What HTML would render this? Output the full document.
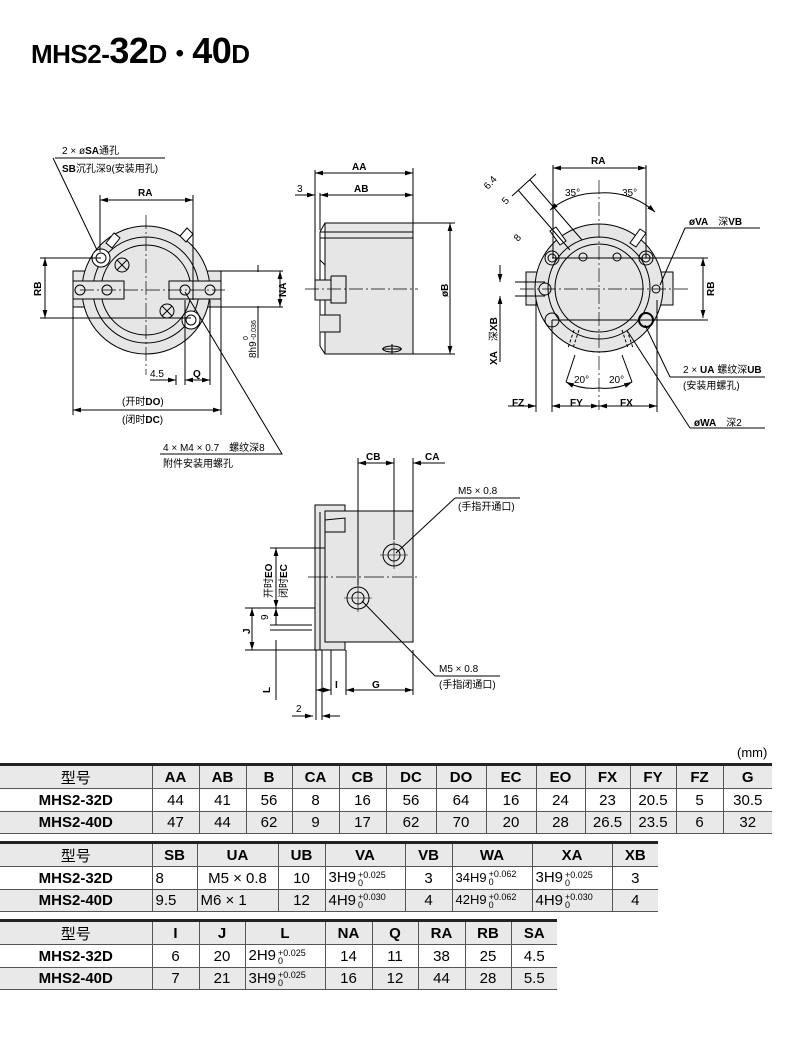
<!DOCTYPE html>
<html><head><meta charset="utf-8">
<style>
body{margin:0;width:790px;height:1038px;background:#fff;position:relative;overflow:hidden;font-family:"Liberation Sans","Noto Sans CJK SC",sans-serif;}
svg{position:absolute;left:0;top:0}
svg text{font-family:"Liberation Sans","Noto Sans CJK SC",sans-serif;font-size:10px;fill:#000}
.b{font-weight:bold}
table{position:absolute;left:0;border-collapse:collapse;table-layout:fixed;font-size:15px;border-top:3px solid #222;border-bottom:1px solid #666}
td{border-left:1px solid #555;border-bottom:1px solid #555;text-align:center;padding:0;white-space:nowrap;overflow:hidden}
td:first-child{border-left:none;font-weight:bold}
tr.h td{background:#e9e9e9;font-weight:bold;height:22px}
tr.h td:first-child{font-weight:normal}
tr.r1 td{background:#fff;height:22px}
tr.r2 td{background:#e9e9e9;height:21px}
.t{display:inline-block;vertical-align:middle;font-size:9px;line-height:8px;text-align:left;margin-left:2px}
.l{text-align:left;padding-left:3px}
</style></head><body>
<div style="position:absolute;left:31px;top:30px;font-weight:bold;font-size:26px;letter-spacing:-0.5px">MHS2-<span style="font-size:36px">32</span>D・<span style="font-size:36px">40</span>D</div>

<svg width="790" height="760" viewBox="0 0 790 760">
<defs><marker id="a" viewBox="0 0 10 6" refX="10" refY="3" markerWidth="8" markerHeight="5" orient="auto-start-reverse"><path d="M0,0L10,3L0,6z" fill="#000"/></marker></defs>
<g stroke="#000" stroke-width="1" fill="none">
<rect x="73" y="271" width="148" height="36" fill="#e6e6e6"/>
<circle cx="146" cy="290" r="64" fill="#e6e6e6"/>
<circle cx="146" cy="290" r="53"/>
<circle cx="146" cy="290" r="45" fill="#e6e6e6"/>
<rect x="73" y="281" width="51" height="18" fill="#e6e6e6"/>
<rect x="169" y="281" width="52" height="18" fill="#e6e6e6"/>
<circle cx="80" cy="290" r="5"/><circle cx="107" cy="290" r="5"/>
<circle cx="185" cy="290" r="5"/><circle cx="210" cy="290" r="5"/>
<circle cx="122" cy="265" r="7"/><path d="M117,260l10,10M127,260l-10,10"/>
<circle cx="167" cy="311" r="7"/><path d="M162,306l10,10M172,306l-10,10"/>
<circle cx="101" cy="258" r="9" fill="#fff"/><circle cx="101" cy="258" r="5"/>
<circle cx="191" cy="320" r="9" fill="#fff"/><circle cx="191" cy="320" r="5"/>
<path d="M106,243l8,-10l6,5l-8,10z" fill="#fff"/><path d="M180,236l7,-8l6,6l-7,8z" fill="#fff"/>
<path d="M146,215V375M80,290H225" stroke-dasharray="14 3 2 3" stroke-width="0.7"/>
<path d="M100,195V252M193,195V300"/><path d="M100,200H193" marker-start="url(#a)" marker-end="url(#a)"/>
<path d="M40,258H101M40,318H191"/><path d="M45,258V318" marker-start="url(#a)" marker-end="url(#a)"/>
<path d="M221,271H283M221,307H283"/><path d="M258,265V272M258,306V358"/><path d="M280,271V307" marker-start="url(#a)" marker-end="url(#a)"/>
<path d="M176,375V385M185,300V385M210,300V385"/>
<path d="M150,380H176" marker-end="url(#a)"/><path d="M185,380H210" marker-start="url(#a)" marker-end="url(#a)"/>
<path d="M73,307V415M221,307V415"/><path d="M73,410H221" marker-start="url(#a)" marker-end="url(#a)"/>
<path d="M55,158H165M53,158L97,250"/>
<path d="M160,454H282L185,292"/>
<rect x="325" y="223" width="88" height="131" fill="#e6e6e6"/>
<path d="M320,232L325,223M320,232V346L325,354M320,238H413M320,232H413M320,260L325,265" />
<rect x="315" y="280" width="16" height="20" fill="#e6e6e6"/><path d="M331,276V303H346V276H331" fill="#e6e6e6"/>
<path d="M320,315H340V332H320" fill="#e6e6e6"/>
<ellipse cx="392" cy="349" rx="9" ry="3"/><path d="M392,344V354M382,349H402"/>
<path d="M305,289H418" stroke-dasharray="14 3 2 3" stroke-width="0.7"/>
<path d="M315,170V280M320,193V230M413,168V223"/>
<path d="M315,173H413" marker-start="url(#a)" marker-end="url(#a)"/>
<path d="M320,195H413" marker-start="url(#a)" marker-end="url(#a)"/>
<path d="M295,195H315" marker-end="url(#a)"/>
<path d="M413,223H455M413,354H455"/><path d="M450,223V354" marker-start="url(#a)" marker-end="url(#a)"/>
<rect x="526" y="272" width="147" height="33" fill="#e6e6e6"/>
<circle cx="599" cy="288" r="64" fill="#e6e6e6"/>
<circle cx="599" cy="288" r="51"/>
<circle cx="599" cy="288" r="44" fill="#e6e6e6"/>
<circle cx="552" cy="258" r="7"/><circle cx="552" cy="258" r="4"/>
<circle cx="646" cy="258" r="7"/><circle cx="646" cy="258" r="4"/>
<circle cx="552" cy="320" r="7"/><circle cx="646" cy="320" r="7" stroke-width="2"/>
<circle cx="545" cy="289" r="6"/><circle cx="656" cy="289" r="4"/>
<circle cx="583" cy="257" r="4"/><circle cx="617" cy="257" r="4"/>
<path d="M560,245l-10,-14l6,-4l10,14z" fill="#fff"/><path d="M630,243l10,-14l6,4l-10,14z" fill="#fff"/>
<path d="M574,330l-6,18M579,330l-6,18M622,330l6,18M627,330l6,18" stroke-dasharray="3 2"/>
<path d="M599,180V410M520,289H690" stroke-dasharray="14 3 2 3" stroke-width="0.7"/>
<path d="M553,165V258M646,165V258"/><path d="M553,168H646" marker-start="url(#a)" marker-end="url(#a)"/>
<path d="M550,210A75,75 0 0 1 599,193" marker-start="url(#a)"/><path d="M599,193A75,75 0 0 1 655,212" marker-end="url(#a)"/>
<path d="M552,258H708M552,320H708"/><path d="M703,258V318" marker-start="url(#a)" marker-end="url(#a)"/>
<path d="M515,282H545M515,296H545"/><path d="M500,265V282" marker-end="url(#a)"/><path d="M500,296V362" marker-start="url(#a)"/>
<path d="M536,300V412M552,320V412M657,300V412"/>
<path d="M508,406H536" marker-end="url(#a)"/><path d="M552,406H599" marker-start="url(#a)" marker-end="url(#a)"/><path d="M599,406H657" marker-start="url(#a)" marker-end="url(#a)"/>
<path d="M566,382A60,60 0 0 0 599,388" marker-start="url(#a)"/><path d="M599,388A60,60 0 0 0 632,382" marker-end="url(#a)"/>
<path d="M566,382L575,355M632,382L622,355"/>
<path d="M518,190L570,250M530,180L582,240M512,196l24,-22" />
<path d="M685,228H760M685,228L660,285"/>
<path d="M670,377H765M670,377L645,325"/>
<path d="M690,428H765M690,428L628,332"/>
<path d="M315,505H345V511H325V642H345V650H315Z" fill="#e6e6e6"/>
<rect x="325" y="511" width="88" height="131" fill="#e6e6e6"/>
<path d="M315,505V650M320,512V650M325,520L345,518V532H325"/>
<circle cx="394" cy="555" r="11"/><circle cx="394" cy="555" r="6"/><path d="M380,555H408M394,541V569" stroke-width="0.6"/>
<circle cx="358" cy="598" r="11"/><circle cx="358" cy="598" r="6"/><path d="M344,598H372M358,584V612" stroke-width="0.6"/>
<path d="M308,577H420" stroke-dasharray="20 3 2 3" stroke-width="0.7"/>
<path d="M358,458V585M394,458V540M413,458V511"/>
<path d="M358,463H394" marker-start="url(#a)" marker-end="url(#a)"/><path d="M445,463H413" marker-end="url(#a)"/>
<path d="M270,548H325M245,608H315M245,650H315"/>
<path d="M276,548V608" marker-start="url(#a)" marker-end="url(#a)"/>
<path d="M252,608V650" marker-start="url(#a)" marker-end="url(#a)"/>
<path d="M276,608V625M276,640V700" marker-start="url(#a)"/><path d="M270,625H312M270,630H312"/>
<path d="M316,650V720M322,650V720M331,650V695M346,650V695M413,650V695"/>
<path d="M316,690H331" marker-start="url(#a)" marker-end="url(#a)"/><path d="M346,690H413" marker-start="url(#a)" marker-end="url(#a)"/>
<path d="M292,716H313" marker-end="url(#a)"/><path d="M340,716H322" marker-end="url(#a)"/>
<path d="M455,498H520M455,498L396,553"/>
<path d="M435,676H500M435,676L362,601"/>
</g>
<g>
<text x="62" y="154">2 × ø<tspan class="b">SA</tspan>通孔</text>
<text x="62" y="172"><tspan class="b">SB</tspan>沉孔深9(安装用孔)</text>
<text x="138" y="196" class="b">RA</text>
<text transform="translate(41,296) rotate(-90)" class="b">RB</text>
<text transform="translate(286,297) rotate(-90)" class="b">NA</text>
<text transform="translate(256,358) rotate(-90)">8h9</text>
<text transform="translate(248,340) rotate(-90)" style="font-size:7px">0</text>
<text transform="translate(256,340) rotate(-90)" style="font-size:7px">-0.036</text>
<text x="150" y="377">4.5</text><text x="193" y="377" class="b">Q</text>
<text x="122" y="405">(开时<tspan class="b">DO</tspan>)</text>
<text x="122" y="423">(闭时<tspan class="b">DC</tspan>)</text>
<text x="163" y="451">4 × M4 × 0.7　螺纹深8</text>
<text x="163" y="467">附件安装用螺孔</text>
<text x="352" y="170" class="b">AA</text><text x="354" y="192" class="b">AB</text><text x="297" y="192">3</text>
<text transform="translate(448,297) rotate(-90)" class="b">øB</text>
<text x="591" y="164" class="b">RA</text>
<text x="565" y="196">35°</text><text x="622" y="196">35°</text>
<text transform="translate(488,190) rotate(-48)">6.4</text>
<text transform="translate(506,205) rotate(-48)">5</text>
<text transform="translate(518,242) rotate(-48)">8</text>
<text x="689" y="225"><tspan class="b">øVA</tspan>　深<tspan class="b">VB</tspan></text>
<text transform="translate(714,296) rotate(-90)" class="b">RB</text>
<text transform="translate(497,365) rotate(-90)"><tspan class="b">XA</tspan>　深<tspan class="b">XB</tspan></text>
<text x="574" y="383">20°</text><text x="609" y="383">20°</text>
<text x="683" y="373">2 × <tspan class="b">UA</tspan> 螺纹深<tspan class="b">UB</tspan></text>
<text x="683" y="389">(安装用螺孔)</text>
<text x="512" y="406" class="b">FZ</text><text x="570" y="406" class="b">FY</text><text x="620" y="406" class="b">FX</text>
<text x="694" y="426"><tspan class="b">øWA</tspan>　深2</text>
<text x="366" y="460" class="b">CB</text><text x="425" y="460" class="b">CA</text>
<text x="458" y="494">M5 × 0.8</text><text x="458" y="510">(手指开通口)</text>
<text x="439" y="672">M5 × 0.8</text><text x="439" y="688">(手指闭通口)</text>
<text transform="translate(272,598) rotate(-90)">开时<tspan class="b">EO</tspan></text>
<text transform="translate(287,598) rotate(-90)">闭时<tspan class="b">EC</tspan></text>
<text transform="translate(268,620) rotate(-90)">9</text>
<text transform="translate(250,634) rotate(-90)" class="b">J</text>
<text transform="translate(270,693) rotate(-90)" class="b">L</text>
<text x="335" y="688" class="b">I</text><text x="372" y="688" class="b">G</text>
<text x="296" y="712">2</text>
<text x="737" y="757" style="font-size:13px">(mm)</text>
</g>
</svg>

<table style="top:763px;width:772px">
<colgroup><col style="width:152px"><col style="width:47px"><col style="width:47px"><col style="width:46px"><col style="width:47px"><col style="width:47px"><col style="width:50px"><col style="width:50px"><col style="width:50px"><col style="width:49px"><col style="width:45px"><col style="width:46px"><col style="width:47px"><col style="width:49px"></colgroup>
<tr class="h"><td>型号</td><td>AA</td><td>AB</td><td>B</td><td>CA</td><td>CB</td><td>DC</td><td>DO</td><td>EC</td><td>EO</td><td>FX</td><td>FY</td><td>FZ</td><td>G</td></tr>
<tr class="r1"><td>MHS2-32D</td><td>44</td><td>41</td><td>56</td><td>8</td><td>16</td><td>56</td><td>64</td><td>16</td><td>24</td><td>23</td><td>20.5</td><td>5</td><td>30.5</td></tr>
<tr class="r2"><td>MHS2-40D</td><td>47</td><td>44</td><td>62</td><td>9</td><td>17</td><td>62</td><td>70</td><td>20</td><td>28</td><td>26.5</td><td>23.5</td><td>6</td><td>32</td></tr>
</table>

<table style="top:841px;width:658px">
<colgroup><col style="width:152px"><col style="width:45px"><col style="width:81px"><col style="width:47px"><col style="width:80px"><col style="width:47px"><col style="width:80px"><col style="width:80px"><col style="width:46px"></colgroup>
<tr class="h"><td>型号</td><td>SB</td><td>UA</td><td>UB</td><td>VA</td><td>VB</td><td>WA</td><td>XA</td><td>XB</td></tr>
<tr class="r1"><td>MHS2-32D</td><td class="l">8</td><td>M5 × 0.8</td><td>10</td><td class="l">3H9<span class="t">+0.025<br>0</span></td><td>3</td><td class="l" style="font-size:13px">34H9<span class="t">+0.062<br>0</span></td><td class="l">3H9<span class="t">+0.025<br>0</span></td><td>3</td></tr>
<tr class="r2"><td>MHS2-40D</td><td class="l">9.5</td><td class="l">M6 × 1</td><td>12</td><td class="l">4H9<span class="t">+0.030<br>0</span></td><td>4</td><td class="l" style="font-size:13px">42H9<span class="t">+0.062<br>0</span></td><td class="l">4H9<span class="t">+0.030<br>0</span></td><td>4</td></tr>
</table>

<table style="top:919px;width:557px">
<colgroup><col style="width:152px"><col style="width:47px"><col style="width:46px"><col style="width:80px"><col style="width:47px"><col style="width:46px"><col style="width:47px"><col style="width:46px"><col style="width:46px"></colgroup>
<tr class="h"><td>型号</td><td>I</td><td>J</td><td>L</td><td>NA</td><td>Q</td><td>RA</td><td>RB</td><td>SA</td></tr>
<tr class="r1"><td>MHS2-32D</td><td>6</td><td>20</td><td class="l">2H9<span class="t">+0.025<br>0</span></td><td>14</td><td>11</td><td>38</td><td>25</td><td>4.5</td></tr>
<tr class="r2"><td>MHS2-40D</td><td>7</td><td>21</td><td class="l">3H9<span class="t">+0.025<br>0</span></td><td>16</td><td>12</td><td>44</td><td>28</td><td>5.5</td></tr>
</table>
</body></html>
